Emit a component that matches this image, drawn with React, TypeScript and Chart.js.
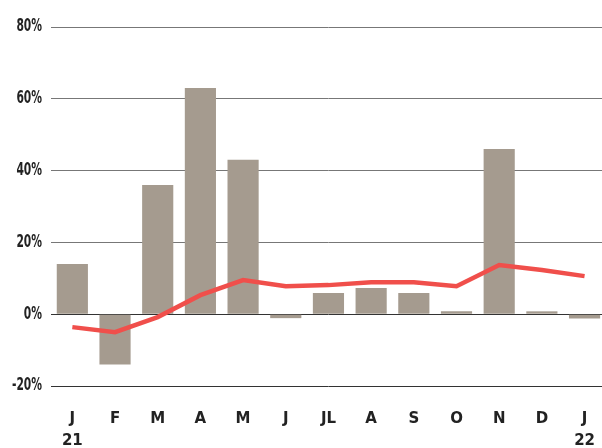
import React, { useEffect, useRef } from "react";
import { Chart, registerables } from "chart.js";

Chart.register(...registerables);

const categories: (string | string[])[] = [
  ["J", "21"], "F", "M", "A", "M", "J", "JL", "A", "S", "O", "N", "D", ["J", "22"],
];
const barValues = [14, -14, 36, 63, 43, -1.1, 5.9, 7.3, 5.9, 0.8, 46, 0.8, -1.2];
const lineValues = [-3.6, -5, -0.8, 5.3, 9.5, 7.8, 8.1, 8.9, 8.9, 7.8, 13.7, 12.3, 10.6];
const yTicks = [-20, 0, 20, 40, 60, 80];

const W = 617;
const H = 448;

const condensedYLabels = {
  id: "condensedYLabels",
  afterDraw(chart: any) {
    const scale = chart.scales.y;
    const ctx = chart.ctx;
    ctx.save();
    ctx.fillStyle = "#222";
    ctx.font = "bold 17px 'DejaVu Sans Condensed', 'DejaVu Sans'";
    ctx.textAlign = "right";
    ctx.textBaseline = "middle";
    for (const t of scale.ticks) {
      const y = scale.getPixelForValue(t.value);
      ctx.save();
      ctx.translate(scale.right - 9, y);
      ctx.scale(0.7, 1);
      ctx.fillText(`${t.value}%`, 0, 0);
      ctx.restore();
    }
    ctx.restore();
  },
};

export default function App() {
  const ref = useRef<HTMLCanvasElement>(null);
  useEffect(() => {
    const canvas = ref.current!;
    const chart = new Chart(canvas, {
      type: "bar",
      data: {
        labels: categories,
        datasets: [
          {
            type: "line",
            data: lineValues,
            borderColor: "#f04f4b",
            borderWidth: 4.5,
            pointRadius: 0,
            tension: 0,
            fill: false,
            order: 0,
          } as any,
          {
            type: "bar",
            data: barValues,
            backgroundColor: "#a59b8f",
            barPercentage: 0.73,
            categoryPercentage: 1,
            order: 1,
          },
        ],
      },
      plugins: [condensedYLabels],
      options: {
        animation: false,
        responsive: false,
        devicePixelRatio: 1,
        layout: { padding: { top: 27, left: 0, right: 0, bottom: 0 } },
        plugins: { legend: { display: false }, tooltip: { enabled: false } },
        scales: {
          x: {
            grid: { display: false, drawTicks: false },
            border: { display: false },
            ticks: {
              color: "#222",
              padding: 22,
              font: { family: "'DejaVu Sans'", weight: "bold", size: 15, lineHeight: 1.47 },
              maxRotation: 0,
              autoSkip: false,
            },
            afterFit: (s: any) => {
              s.height = 62;
            },
          },
          y: {
            min: -20,
            max: 80,
            afterBuildTicks: (s: any) => {
              s.ticks = yTicks.map((v) => ({ value: v }));
            },
            grid: {
              drawTicks: false,
              color: (c: any) => (c.tick && (c.tick.value === 0 || c.tick.value === -20) ? "#333" : "#777"),
              lineWidth: 1,
            },
            border: { display: false },
            ticks: {
              display: false,
              callback: (v: any) => `${v}%`,
            },
            afterFit: (s: any) => {
              s.width = 51;
            },
          },
        },
      },
    });
    return () => chart.destroy();
  }, []);
  return (
    <div style={{ position: "fixed", left: 0, top: 0, width: W, height: H, background: "#fff" }}>
      <canvas ref={ref} width={W} height={H} style={{ width: W, height: H, display: "block" }} />
    </div>
  );
}
